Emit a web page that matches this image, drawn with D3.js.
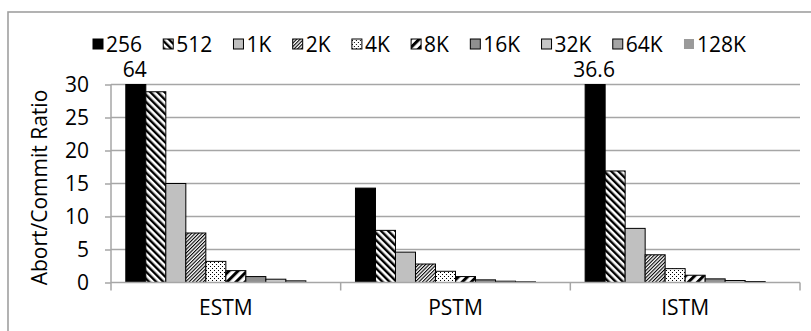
<!DOCTYPE html>
<html>
<head>
<meta charset="utf-8">
<script src="https://cdn.jsdelivr.net/npm/d3@7"></script>
<style>
  html, body { margin: 0; padding: 0; background: #fff; }
  svg { display: block; font-family: "Open Sans", sans-serif; }
</style>
</head>
<body>
<svg id="chart" width="811" height="331"></svg>
<script>
// Abort/commit ratio per STM variant, one series per table size
const categories = ["ESTM", "PSTM", "ISTM"];
const seriesNames = ["256", "512", "1K", "2K", "4K", "8K", "16K", "32K", "64K", "128K"];
const values256  = [64, 14.3, 36.6];
const values512  = [28.9, 7.9, 16.9];
const values1K   = [15.0, 4.6, 8.2];
const values2K   = [7.5, 2.8, 4.2];
const values4K   = [3.2, 1.7, 2.1];
const values8K   = [1.8, 0.9, 1.1];
const values16K  = [0.9, 0.4, 0.55];
const values32K  = [0.5, 0.2, 0.3];
const values64K  = [0.25, 0.1, 0.15];
const values128K = [0.05, 0.04, 0.06];
const yTicks = [0, 5, 10, 15, 20, 25, 30];
const yTitle = "Abort/Commit Ratio";

const seriesValues = [values256, values512, values1K, values2K, values4K,
                      values8K, values16K, values32K, values64K, values128K];

const svg = d3.select("#chart");
const FONT = 21;

// ---- fills: solid greys and hatch patterns ----
const defs = svg.append("defs");
function stripes(id, angle, period, thick) {
  const p = defs.append("pattern")
    .attr("id", id).attr("patternUnits", "userSpaceOnUse")
    .attr("width", period).attr("height", period)
    .attr("patternTransform", `rotate(${angle})`);
  p.append("rect").attr("width", period).attr("height", period).attr("fill", "#fff");
  p.append("rect").attr("width", thick).attr("height", period).attr("fill", "#000");
}
stripes("hatch512", -45, 5, 2.4);
stripes("hatch2K", 45, 2.5, 1.1);
stripes("hatch8K", 45, 6.4, 3);
const dots = defs.append("pattern")
  .attr("id", "dots4K").attr("patternUnits", "userSpaceOnUse")
  .attr("width", 4).attr("height", 4);
dots.append("rect").attr("width", 4).attr("height", 4).attr("fill", "#fff");
dots.append("rect").attr("x", 0).attr("y", 0).attr("width", 1).attr("height", 1).attr("fill", "#000");
dots.append("rect").attr("x", 2).attr("y", 2).attr("width", 1).attr("height", 1).attr("fill", "#000");

const fills = ["#000", "url(#hatch512)", "#c0c0c0", "url(#hatch2K)", "url(#dots4K)",
               "url(#hatch8K)", "#8f8f8f", "#c6c6c6", "#a5a5a5", "#9a9a9a"];
const strokes = ["#000", "#000", "#000", "#000", "#000", "#000", "#000", "#000", "#000", "none"];

// ---- outer frame ----
svg.append("rect")
  .attr("x", 8).attr("y", 12).attr("width", 900).attr("height", 400)
  .attr("fill", "none").attr("stroke", "#a0a0a0").attr("stroke-width", 1.6);

// ---- scales ----
const plotLeft = 111, plotRight = 800, plotTop = 84.5, plotBottom = 282.5;
const x = d3.scaleBand().domain(categories).range([plotLeft, plotRight]).padding(0);
const xs = d3.scaleBand().domain(seriesNames).range([0, x.bandwidth()])
  .paddingInner(0).paddingOuter(0.74);
const y = d3.scaleLinear().domain([0, 30]).range([plotBottom, plotTop]).clamp(true);

// ---- gridlines ----
svg.append("g").selectAll("line").data(yTicks.filter(t => t > 0)).join("line")
  .attr("x1", plotLeft).attr("x2", plotRight)
  .attr("y1", d => y(d)).attr("y2", d => y(d))
  .attr("stroke", "#a6a6a6").attr("stroke-width", 1.5);

// ---- y axis ----
const yAxis = svg.append("g")
  .attr("transform", `translate(${plotLeft},0)`)
  .call(d3.axisLeft(y).tickValues(yTicks).tickSize(6).tickPadding(16));
yAxis.select(".domain").attr("stroke", "#a6a6a6").attr("stroke-width", 1.5)
  .attr("d", `M0,${plotTop}V${plotBottom + 8}`);
yAxis.selectAll(".tick line").attr("stroke", "#a6a6a6").attr("stroke-width", 1.5);
yAxis.selectAll(".tick text").attr("font-size", FONT).attr("fill", "#000")
  .attr("font-family", "Open Sans, sans-serif");

// ---- bars ----
const groups = svg.append("g").selectAll("g").data(seriesNames).join("g")
  .attr("fill", (d, i) => fills[i]).attr("stroke", (d, i) => strokes[i])
  .attr("stroke-width", 1);
groups.selectAll("rect")
  .data((s, i) => categories.map((c, j) => ({ cat: c, series: s, v: seriesValues[i][j] })))
  .join("rect")
  .attr("x", d => x(d.cat) + xs(d.series))
  .attr("width", xs.bandwidth())
  .attr("y", d => y(d.v))
  .attr("height", d => y(0) - y(d.v));

// ---- x axis ----
const xAxisG = svg.append("g").attr("transform", `translate(0,${plotBottom})`);
xAxisG.append("line").attr("x1", plotLeft).attr("x2", plotRight)
  .attr("stroke", "#a6a6a6").attr("stroke-width", 1.5);
const boundaries = categories.map(c => x(c)).concat([x(categories[categories.length - 1]) + x.bandwidth()]);
xAxisG.selectAll("line.tk").data(boundaries.slice(1)).join("line").attr("class", "tk")
  .attr("x1", d => d).attr("x2", d => d).attr("y1", 0).attr("y2", 8)
  .attr("stroke", "#a6a6a6").attr("stroke-width", 1.5);
xAxisG.selectAll("text").data(categories).join("text")
  .attr("x", d => x(d) + x.bandwidth() / 2).attr("y", 32)
  .attr("text-anchor", "middle").attr("font-size", FONT).text(d => d);

// ---- value labels for bars that run past the axis maximum ----
const overflow = [];
seriesNames.forEach((s, i) => categories.forEach((c, j) => {
  if (seriesValues[i][j] > y.domain()[1]) overflow.push({ cat: c, series: s, v: seriesValues[i][j] });
}));
svg.append("g").selectAll("text").data(overflow).join("text")
  .attr("x", d => x(d.cat) + xs(d.series) + xs.bandwidth() / 2 - 1)
  .attr("y", y(30) - 8)
  .attr("text-anchor", "middle").attr("font-size", FONT).text(d => d.v);

// ---- axis title ----
svg.append("text")
  .attr("transform", `translate(47,${(plotTop + plotBottom) / 2 + 4}) rotate(-90)`)
  .attr("text-anchor", "middle").attr("font-size", FONT).text(yTitle);

// ---- legend ----
const legend = svg.append("g");
const legendStart = 93, legendEnd = 746, legendY = 44, sq = 10, sqGap = 3;
const items = legend.selectAll("g").data(seriesNames).join("g");
items.append("rect").attr("width", sq).attr("height", sq)
  .attr("y", legendY - sq / 2)
  .attr("fill", (d, i) => fills[i]).attr("stroke", (d, i) => strokes[i]);
items.append("text").attr("x", sq + sqGap).attr("y", legendY + 7.5)
  .attr("font-size", FONT).text(d => d);
const widths = [];
items.each(function () { widths.push(this.getBBox().width); });
const spacing = (legendEnd - legendStart - d3.sum(widths)) / (widths.length - 1);
let cx = legendStart;
items.attr("transform", (d, i) => { const t = `translate(${cx},0)`; cx += widths[i] + spacing; return t; });
</script>
</body>
</html>
